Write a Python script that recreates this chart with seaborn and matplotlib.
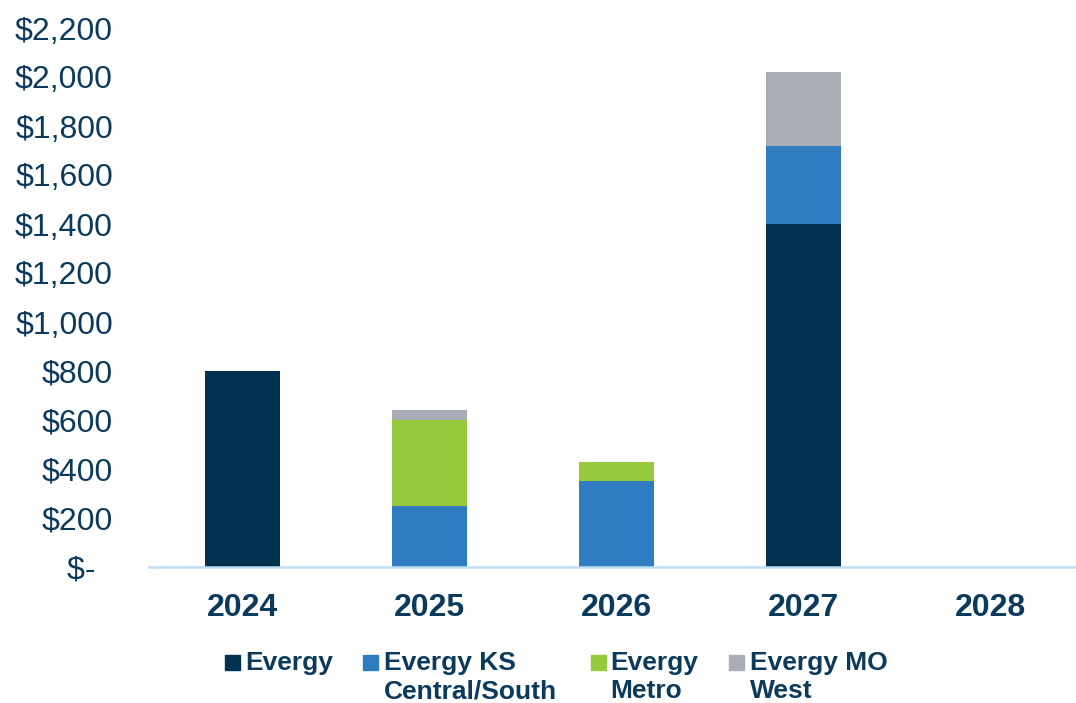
import numpy as np
import pandas as pd
import matplotlib.pyplot as plt
import seaborn as sns
from matplotlib.patches import Rectangle

# values in $ millions
years = ['2024', '2025', '2026', '2027', '2028']
evergy = [800, 0, 0, 1400, 0]
ks_central_south = [0, 250, 350, 320, 0]
metro = [0, 350, 80, 0, 0]
mo_west = [0, 40, 0, 300, 0]

series_names = ['Evergy', 'Evergy KS\nCentral/South', 'Evergy\nMetro', 'Evergy MO\nWest']
series_colors = ['#033250', '#307CC0', '#97C93D', '#A9ADB5']
y_ticks = [0, 200, 400, 600, 800, 1000, 1200, 1400, 1600, 1800, 2000, 2200]

text_color = '#0B3A5C'

sns.set_theme(style='white')
plt.rcParams['font.family'] = ['Liberation Sans', 'DejaVu Sans']

fig = plt.figure(figsize=(10.76, 7.03), dpi=100)
ax = fig.add_axes([149 / 1076, 136 / 703, (1076 - 149) / 1076, 539 / 703])

# stacked bars: draw cumulative totals from the top layer down
layers = [evergy, ks_central_south, metro, mo_west]
cum = np.cumsum(np.array(layers), axis=0)
for i in range(len(layers) - 1, -1, -1):
    df = pd.DataFrame({'year': years, 'value': cum[i]})
    sns.barplot(data=df, x='year', y='value', color=series_colors[i],
                width=0.4, saturation=1, ax=ax, edgecolor='none')

ax.set_xlim(-0.5, 4.46)
ax.set_ylim(0, 2200)
ax.set_yticks(y_ticks)
ax.set_yticklabels(['$-  ' if v == 0 else f'${v:,}' for v in y_ticks])
ax.set_xlabel('')
ax.set_ylabel('')

for s in ['top', 'right', 'left']:
    ax.spines[s].set_visible(False)
ax.spines['bottom'].set_color('#BDDDF4')
ax.spines['bottom'].set_linewidth(1.8)

ax.tick_params(axis='y', length=0, pad=26, labelsize=23, labelcolor=text_color)
ax.tick_params(axis='x', length=0, pad=19, labelsize=23, labelcolor=text_color)
for lab in ax.get_xticklabels():
    lab.set_fontweight('bold')

# legend laid out like the original: marker aligned with the first line
marker_x = [225, 363, 591, 729]
label_x = [245, 384, 610, 750]
for name, col, mx, lx in zip(series_names, series_colors, marker_x, label_x):
    fig.patches.append(Rectangle((mx / 1076, 1 - 670 / 703), 15 / 1076, 15 / 703,
                                 transform=fig.transFigure, color=col))
    fig.text(lx / 1076, 1 - 651 / 703, name, fontsize=19, fontweight='bold',
             color=text_color, ha='left', va='top', linespacing=1.22)

fig.savefig('out.png', dpi=100)
